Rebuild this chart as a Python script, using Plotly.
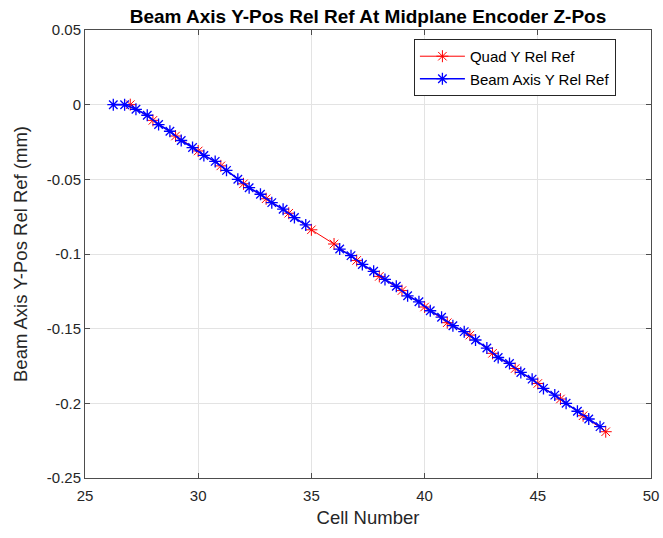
import plotly.graph_objects as go

quad_cells = [27, 28, 29, 30, 31, 32, 33, 34, 35, 36, 37, 38, 39, 40, 41, 42, 43, 44, 45, 46, 47, 48]
quad_y = [0, -0.0105, -0.021, -0.031, -0.041, -0.053, -0.063, -0.0727, -0.0838, -0.0933, -0.1043,
          -0.115, -0.1245, -0.1355, -0.146, -0.1543, -0.1665, -0.1767, -0.1867, -0.1971, -0.2083, -0.219]

beam_cells = [26.25, 26.75, 27.25, 27.75, 28.25, 28.75, 29.25, 29.75, 30.25, 30.75, 31.25, 31.75,
              32.25, 32.75, 33.25, 33.75, 34.25, 34.75, None, 36.25, 36.75, 37.25, 37.75, 38.25,
              38.75, 39.25, 39.75, 40.25, 40.75, 41.25, 41.75, 42.25, 42.75, 43.25, 43.75, 44.25,
              44.75, 45.25, 45.75, 46.25, 46.75, 47.25, 47.75]
beam_y = [0, 0, -0.0031, -0.0071, -0.0133, -0.0178, -0.024, -0.0287, -0.034, -0.038, -0.044, -0.050,
          -0.0556, -0.060, -0.0656, -0.070, -0.0756, -0.0805, None, -0.0967, -0.1011, -0.107, -0.1116,
          -0.117, -0.1216, -0.128, -0.132, -0.138, -0.1423, -0.148, -0.152, -0.1576, -0.163, -0.1693,
          -0.1733, -0.1793, -0.1838, -0.19, -0.1945, -0.2, -0.2053, -0.2105, -0.2156]

x_ticks = [25, 30, 35, 40, 45, 50]
y_ticks = [0.05, 0, -0.05, -0.1, -0.15, -0.2, -0.25]
y_tick_text = ["0.05", "0", "-0.05", "-0.1", "-0.15", "-0.2", "-0.25"]

FONT = "Liberation Sans, Arial, sans-serif"
W, H = 663, 538
L, R, T, B = 85, 12, 30, 60

fig = go.Figure()
fig.add_trace(go.Scatter(
    x=quad_cells, y=quad_y, mode="lines+markers", name="Quad Y Rel Ref",
    line=dict(color="#ff0000", width=1),
    marker=dict(symbol="asterisk-open", size=10, color="#ff0000", line=dict(color="#ff0000", width=1)),
))
fig.add_trace(go.Scatter(
    x=beam_cells, y=beam_y, mode="lines+markers", name="Beam Axis Y Rel Ref",
    line=dict(color="#0000ff", width=1.6), connectgaps=False,
    marker=dict(symbol="asterisk-open", size=10, color="#0000ff", line=dict(color="#0000ff", width=1.3)),
))

axis_common = dict(
    showgrid=True, gridcolor="#e3e3e3", gridwidth=1,
    showline=True, linecolor="#4d4d4d", linewidth=1, mirror="ticks",
    ticks="inside", ticklen=5, tickcolor="#4d4d4d",
    tickfont=dict(family=FONT, size=15, color="#262626"),
    zeroline=False, automargin=False, ticklabeloverflow="allow",
)

plot_w = W - L - R
fig.update_layout(
    width=W, height=H,
    margin=dict(l=L, r=R, t=T, b=B),
    paper_bgcolor="white", plot_bgcolor="white",
    title=dict(text="<b>Beam Axis Y-Pos Rel Ref At Midplane Encoder Z-Pos</b>",
               x=(L + plot_w / 2) / W, xref="container", xanchor="center",
               y=1 - 16 / H, yref="container", yanchor="middle",
               font=dict(family=FONT, size=19, color="black")),
    xaxis=dict(range=[25, 50], tickvals=x_ticks, ticklabelstandoff=4,
               title=dict(text="Cell Number", font=dict(family=FONT, size=18.5, color="#262626"), standoff=8),
               **axis_common),
    yaxis=dict(range=[-0.25, 0.05], tickvals=y_ticks, ticktext=y_tick_text,
               title=dict(text="Beam Axis Y-Pos Rel Ref (mm)", font=dict(family=FONT, size=18.5, color="#262626"), standoff=14),
               **axis_common),
    legend=dict(x=0.938, y=0.98, xanchor="right", yanchor="top",
                bgcolor="white", bordercolor="#262626", borderwidth=1,
                font=dict(family=FONT, size=15, color="black"),
                tracegroupgap=0, itemwidth=45),
    showlegend=True,
)

fig.write_html("out.html", config={"displayModeBar": False},
               post_script="document.body.style.margin='0';document.body.style.overflow='hidden';")
